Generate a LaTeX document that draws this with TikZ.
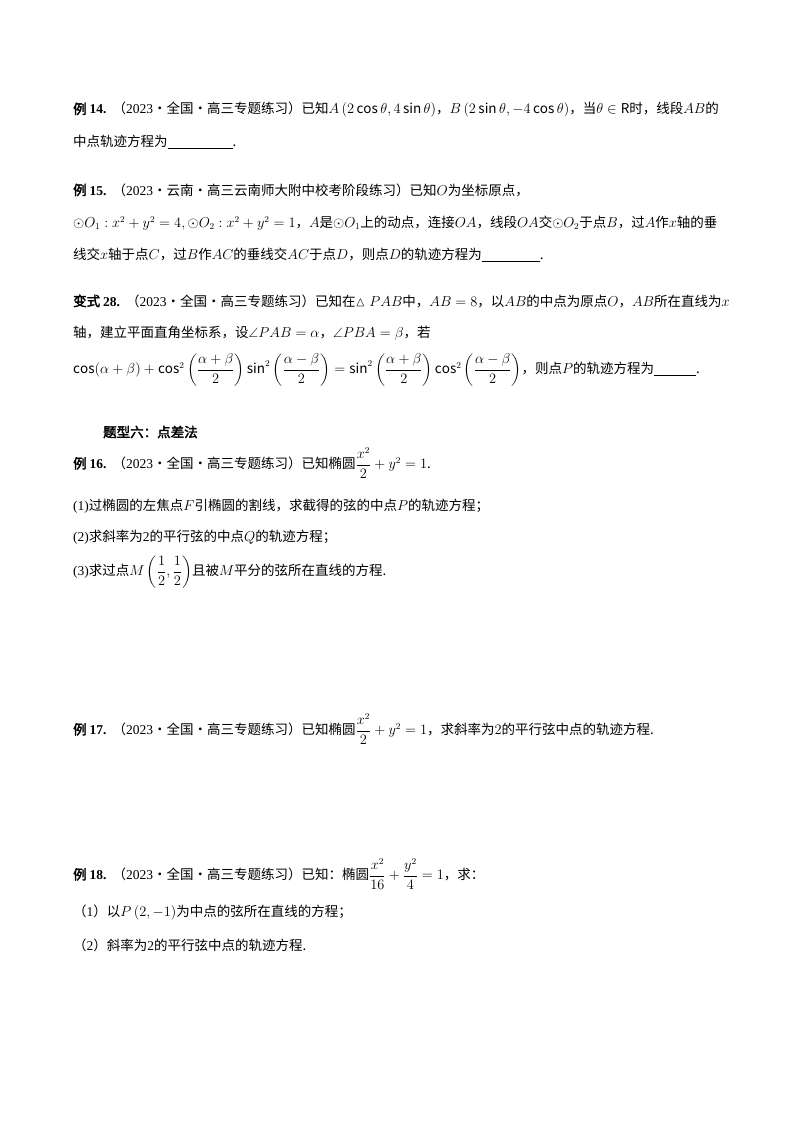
\documentclass[tikz,border=0pt]{standalone}
\usepackage{amsmath,amssymb}
\usepackage{fontspec}
\setmainfont{Noto Sans CJK SC}
\newfontfamily\tnr{Liberation Serif}
\newfontfamily\cjkb[FakeBold=2.5]{Noto Sans CJK SC}
\newcommand{\tm}[1]{{\tnr #1}}
\newcommand{\hd}[1]{{\cjkb #1}}
\newcommand{\blank}[1]{\underline{\hspace{#1}}}
\begin{document}
\begin{tikzpicture}[x=1pt,y=-1pt,
  txt/.style={anchor=west,inner sep=0pt,font=\fontsize{13.5}{16}\selectfont}]
\useasboundingbox[fill=white] (0,0) rectangle (800,1132);
\node[txt] (l1) at (73,110) {\hd{例 \tm{\bfseries 14.}}\ \ （\tm{2023}·全国·高三专题练习）已知$A\left(2\cos\theta,4\sin\theta\right)$，$B\left(2\sin\theta,-4\cos\theta\right)$，当$\theta\in\mathrm{R}$时，线段$AB$的};
\node[txt] (l2) at (73,142) {中点轨迹方程为\blank{65pt}.};
\node[txt] (l3) at (73,190) {\hd{例 \tm{\bfseries 15.}}\ \ （\tm{2023}·云南·高三云南师大附中校考阶段练习）已知$O$为坐标原点，};
\node[txt] (l4) at (73,223) {$\odot O_1:x^2+y^2=4,\odot O_2:x^2+y^2=1$，$A$是$\odot O_1$上的动点，连接$OA$，线段$OA$交$\odot O_2$于点$B$，过$A$作$x$轴的垂};
\node[txt] (l5) at (73,255) {线交$x$轴于点$C$，过$B$作$AC$的垂线交$AC$于点$D$，则点$D$的轨迹方程为\blank{58pt}.};
\node[txt] (l6) at (73,301) {\hd{变式 \tm{\bfseries 28.}}\ \ （\tm{2023}·全国·高三专题练习）已知在$\vartriangle PAB$中，$AB=8$，以$AB$的中点为原点$O$，$AB$所在直线为$x$};
\node[txt] (l7) at (73,333) {轴，建立平面直角坐标系，设$\angle PAB=\alpha$，$\angle PBA=\beta$，若};
\node[txt] (l8) at (73,370) {$\cos(\alpha+\beta)+\cos^2\left(\dfrac{\alpha+\beta}{2}\right)\sin^2\left(\dfrac{\alpha-\beta}{2}\right)=\sin^2\left(\dfrac{\alpha+\beta}{2}\right)\cos^2\left(\dfrac{\alpha-\beta}{2}\right)$，则点$P$的轨迹方程为\blank{42pt}.};
\node[txt] (h6) at (103,432) {\hd{题型六：点差法}};
\node[txt] (l9) at (73,463) {\hd{例 \tm{\bfseries 16.}}\ \ （\tm{2023}·全国·高三专题练习）已知椭圆$\dfrac{x^2}{2}+y^2=1$.};
\node[txt] (l10) at (73,506) {\tm{(1)}过椭圆的左焦点$F$引椭圆的割线，求截得的弦的中点$P$的轨迹方程；};
\node[txt] (l11) at (73,537) {\tm{(2)}求斜率为\tm{2}的平行弦的中点$Q$的轨迹方程；};
\node[txt] (l12) at (73,572) {\tm{(3)}求过点$M\left(\dfrac12,\dfrac12\right)$且被$M$平分的弦所在直线的方程.};
\node[txt] (l13) at (73,729) {\hd{例 \tm{\bfseries 17.}}\ \ （\tm{2023}·全国·高三专题练习）已知椭圆$\dfrac{x^2}{2}+y^2=1$，求斜率为$2$的平行弦中点的轨迹方程.};
\node[txt] (l14) at (73,874) {\hd{例 \tm{\bfseries 18.}}\ \ （\tm{2023}·全国·高三专题练习）已知：椭圆$\dfrac{x^2}{16}+\dfrac{y^2}{4}=1$，求：};
\node[txt] (l15) at (73,913) {（\tm{1}）以$P\left(2,-1\right)$为中点的弦所在直线的方程；};
\node[txt] (l16) at (73,945) {（\tm{2}）斜率为\tm{2}的平行弦中点的轨迹方程.};
\end{tikzpicture}
\end{document}
